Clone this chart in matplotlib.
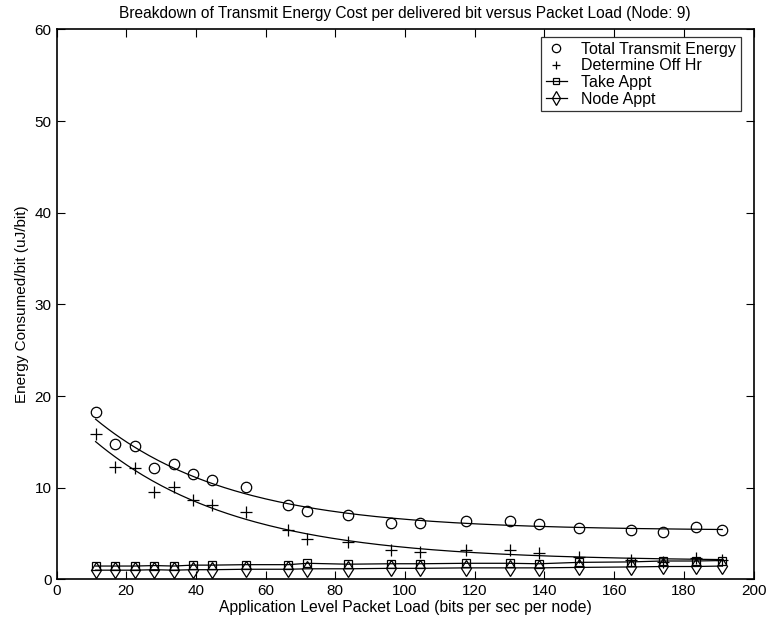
import numpy as np
import matplotlib
matplotlib.use('Agg')
import matplotlib.pyplot as plt

plt.rcParams['font.family'] = ['Liberation Sans', 'DejaVu Sans']

# packet load (bits per sec per node)
load = [11.2, 16.8, 22.5, 28.1, 33.6, 39.1, 44.7, 54.3, 66.5, 72.0, 83.6,
        95.9, 104.4, 117.6, 130.0, 138.5, 149.8, 164.8, 173.9, 183.4, 191.0]

total_energy = [18.3, 14.8, 14.6, 12.1, 12.6, 11.5, 10.8, 10.1, 8.15, 7.5, 7.05,
                6.2, 6.1, 6.4, 6.4, 6.0, 5.6, 5.35, 5.2, 5.7, 5.4]
off_hr = [15.9, 12.3, 12.1, 9.5, 10.1, 8.7, 8.1, 7.35, 5.35, 4.45, 4.1,
          3.25, 3.0, 3.25, 3.2, 2.9, 2.45, 2.1, 1.9, 2.35, 2.1]
take_appt = [1.45, 1.45, 1.45, 1.5, 1.45, 1.55, 1.55, 1.6, 1.6, 1.75, 1.65,
             1.7, 1.7, 1.75, 1.75, 1.7, 1.85, 1.9, 2.0, 2.0, 2.05]
node_appt = [1.0, 1.0, 1.0, 1.05, 1.0, 1.05, 1.05, 1.1, 1.1, 1.15, 1.15,
             1.2, 1.2, 1.25, 1.25, 1.25, 1.3, 1.35, 1.4, 1.4, 1.45]


def exp_fit(x, y):
    # y = c + b*exp(-k x), grid search on k, least squares on b, c
    x = np.asarray(x)
    y = np.asarray(y)
    best = None
    for k in np.linspace(0.002, 0.1, 500):
        A = np.column_stack([np.ones_like(x), np.exp(-k * x)])
        coef, _, _, _ = np.linalg.lstsq(A, y, rcond=None)
        err = np.sum((A @ coef - y) ** 2)
        if best is None or err < best[0]:
            best = (err, k, coef)
    _, k, coef = best
    return lambda t: coef[0] + coef[1] * np.exp(-k * t)


fig = plt.figure(figsize=(7.69, 6.28), dpi=100)
ax = fig.add_axes([0.0735, 0.0775, 0.9065, 0.8757])

xs = np.linspace(min(load), max(load), 200)
f_tot = exp_fit(load, total_energy)
f_off = exp_fit(load, off_hr)

ax.plot(load, total_energy, 'o', mfc='none', mec='k', ms=7.5, mew=0.9,
        label='Total Transmit Energy')
ax.plot(load, off_hr, '+', color='k', ms=8, mew=0.9, label='Determine Off Hr')
ax.plot(load, take_appt, '-s', color='k', mfc='none', ms=6, mew=0.9, lw=0.9,
        label='Take Appt')
ax.plot(load, node_appt, '-d', color='k', mfc='none', ms=8.5, mew=0.9, lw=0.9,
        label='Node Appt')
ax.plot(xs, f_tot(xs), '-', color='k', lw=0.9)
ax.plot(xs, f_off(xs), '-', color='k', lw=0.9)

ax.set_xlim(0, 200)
ax.set_ylim(0, 60)
ax.set_xticks(np.arange(0, 201, 20))
ax.set_yticks(np.arange(0, 61, 10))
ax.tick_params(direction='in', top=True, right=True, labelsize=11, length=6, width=0.8)
for s in ax.spines.values():
    s.set_linewidth(1.2)

ax.set_xlabel('Application Level Packet Load (bits per sec per node)', fontsize=11.3, labelpad=1)
ax.set_ylabel('Energy Consumed/bit (uJ/bit)', fontsize=11, labelpad=4)
ax.set_title('Breakdown of Transmit Energy Cost per delivered bit versus Packet Load (Node: 9)',
             fontsize=11.2, pad=8)

leg = ax.legend(loc='upper right', bbox_to_anchor=(0.9813, 0.986), fontsize=11.5,
                frameon=True, fancybox=False, edgecolor='k', borderpad=0.3,
                labelspacing=0.1, handlelength=1.3, handletextpad=0.9,
                borderaxespad=0, markerscale=0.8)
leg.get_frame().set_linewidth(0.9)

fig.savefig('out.png', dpi=100)
